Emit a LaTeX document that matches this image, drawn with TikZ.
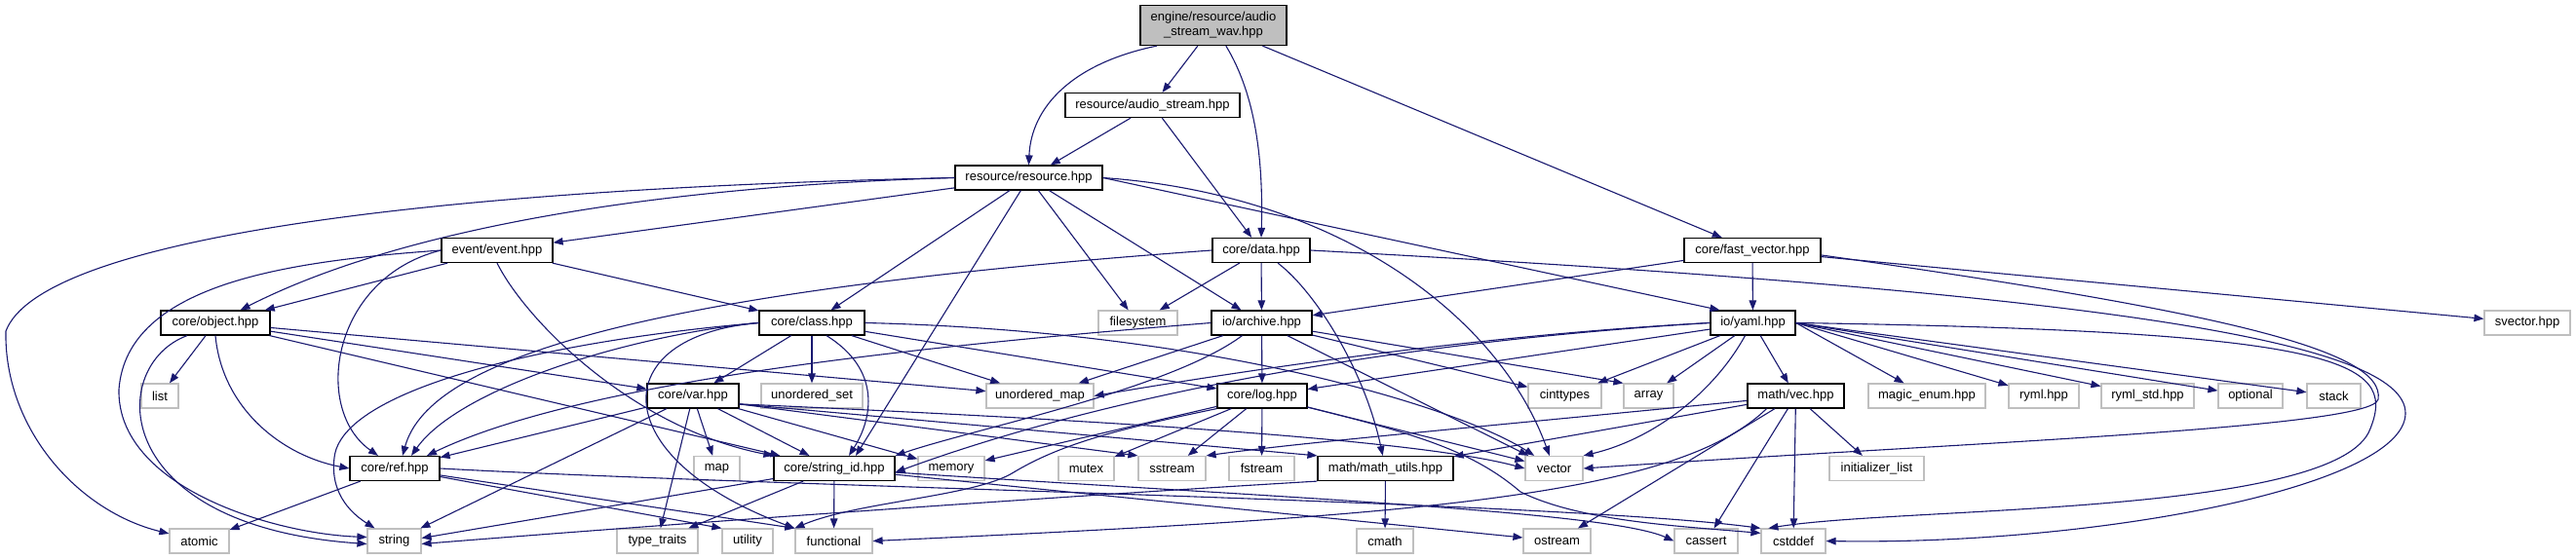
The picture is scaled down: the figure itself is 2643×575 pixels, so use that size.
\documentclass[tikz,border=0pt]{standalone}
\usepackage{fontspec}
\setmainfont{Liberation Sans}
\usetikzlibrary{arrows.meta}
\definecolor{edgeblue}{HTML}{191970}
\definecolor{sysgrey}{HTML}{BFBFBF}
\definecolor{topgrey}{HTML}{BFBFBF}
\tikzset{
  nbox/.style={line width=1.2pt, fill=white, minimum height=25pt, inner sep=0pt,
    font=\fontsize{13}{15}\selectfont, text=black},
  proj/.style={nbox, draw=black},
  sys/.style={nbox, draw=sysgrey},
  e/.style={draw=edgeblue, line width=1.1pt, -{Triangle[length=10pt,width=7.5pt]}},
}
\begin{document}
\begin{tikzpicture}[x=1pt,y=-1pt]
\useasboundingbox (0,0) rectangle (2643,575);
\fill[white] (0,0) rectangle (2643,575);
% row 0-3
\node[proj, fill=topgrey, minimum width=150pt, minimum height=41pt, align=center] (top) at (1245,26) {engine/resource/audio\\\_stream\_wav.hpp};
\node[proj, minimum width=179pt] (aus) at (1182.5,108) {resource/audio\_stream.hpp};
\node[proj, minimum width=151pt] (res) at (1055.5,182.5) {resource/resource.hpp};
\node[proj, minimum width=114pt] (event) at (510,257) {event/event.hpp};
\node[proj, minimum width=100pt] (data) at (1294,257) {core/data.hpp};
\node[proj, minimum width=140pt] (fv) at (1798,257) {core/fast\_vector.hpp};
% row 4
\node[proj, minimum width=112pt] (object) at (221,331.5) {core/object.hpp};
\node[proj, minimum width=108pt] (class) at (833,331.5) {core/class.hpp};
\node[sys, minimum width=81pt] (filesystem) at (1167.5,331.5) {filesystem};
\node[proj, minimum width=103pt] (archive) at (1294.5,331.5) {io/archive.hpp};
\node[proj, minimum width=87pt] (yaml) at (1798.5,331.5) {io/yaml.hpp};
\node[sys, minimum width=88pt] (svector) at (2593,331.5) {svector.hpp};
% row 5
\node[sys, minimum width=38pt] (list) at (164,406.5) {list};
\node[proj, minimum width=94pt] (var) at (711,406.5) {core/var.hpp};
\node[sys, minimum width=104pt] (uset) at (833,406.5) {unordered\_set};
\node[sys, minimum width=110pt] (umap) at (1067,406.5) {unordered\_map};
\node[proj, minimum width=92pt] (log) at (1295,406.5) {core/log.hpp};
\node[sys, minimum width=75pt] (cinttypes) at (1605.5,406.5) {cinttypes};
\node[sys, minimum width=51pt] (array) at (1691.5,406.5) {array};
\node[proj, minimum width=99pt] (vec) at (1842.5,406.5) {math/vec.hpp};
\node[sys, minimum width=120pt] (magic) at (1977,406.5) {magic\_enum.hpp};
\node[sys, minimum width=72pt] (ryml) at (2097,406.5) {ryml.hpp};
\node[sys, minimum width=95pt] (rymlstd) at (2203.5,406.5) {ryml\_std.hpp};
\node[sys, minimum width=66pt] (optional) at (2309,406.5) {optional};
\node[sys, minimum width=55pt] (stack) at (2394.5,406.5) {stack};
% row 6
\node[proj, minimum width=92pt] (ref) at (405,481) {core/ref.hpp};
\node[sys, minimum width=47pt] (map) at (735.5,481) {map};
\node[proj, minimum width=124pt] (sid) at (856,481) {core/string\_id.hpp};
\node[sys, minimum width=68pt] (memory) at (976,481) {memory};
\node[sys, minimum width=57pt] (mutex) at (1114.5,481) {mutex};
\node[sys, minimum width=69pt] (sstream) at (1202.5,481) {sstream};
\node[sys, minimum width=67pt] (fstream) at (1294.5,481) {fstream};
\node[proj, minimum width=139pt] (mathu) at (1421.5,481) {math/math\_utils.hpp};
\node[sys, minimum width=59pt] (vector) at (1594.5,481) {vector};
\node[sys, minimum width=97pt] (initlist) at (1925.5,481) {initializer\_list};
% row 7
\node[sys, minimum width=61pt] (atomic) at (204.5,555.5) {atomic};
\node[sys, minimum width=55pt] (string) at (404.5,555.5) {string};
\node[sys, minimum width=83pt] (typetraits) at (674.5,555.5) {type\_traits};
\node[sys, minimum width=52pt] (utility) at (767,555.5) {utility};
\node[sys, minimum width=79pt] (functional) at (855.5,555.5) {functional};
\node[sys, minimum width=58pt] (cmath) at (1421,555.5) {cmath};
\node[sys, minimum width=69pt] (ostream) at (1597.5,555.5) {ostream};
\node[sys, minimum width=65pt] (cassert) at (1750.5,555.5) {cassert};
\node[sys, minimum width=66pt] (cstddef) at (1840,555.5) {cstddef};

% ---- edges ----
% top
\draw[e] (top) -- (aus);
\draw[e] (top.200) .. controls (1100,65) and (1058,110) .. (res.north);
\draw[e] (top) .. controls (1290,100) and (1296,170) .. (data.north);
\draw[e] (top) -- (fv);
\draw[e] (aus) -- (res);
\draw[e] (aus) -- (data);
% resource
\draw[e] (res) -- (event);
\draw[e] (res.west) .. controls (650,192) and (400,240) .. (object);
\draw[e] (res.west) .. controls (400,195) and (40,250) .. (6,340) .. controls (4,440) and (80,525) .. (atomic);
\draw[e] (res) -- (class);
\draw[e] (res) -- ([xshift=22pt]sid.north);
\draw[e] (res) -- (filesystem);
\draw[e] (res) -- (archive);
\draw[e] (res.east) .. controls (1380,200) and (1540,330) .. (vector);
\draw[e] (res.east) -- ([xshift=10pt]yaml.north west);
% event
\draw[e] (event) -- (object);
\draw[e] (event) -- (class);
\draw[e] (event.west) .. controls (340,285) and (320,420) .. ([xshift=-17pt]ref.north);
\draw[e] (event.south) .. controls (540,330) and (650,440) .. (sid.north west);
\draw[e] (event.west) .. controls (300,268) and (130,290) .. (122,400) .. controls (120,500) and (280,548) .. ([yshift=4pt]string.west);
% data
\draw[e] (data.west) .. controls (650,300) and (440,370) .. ([xshift=8pt]ref.north);
\draw[e] (data) -- (filesystem);
\draw[e] (data) -- (archive);
\draw[e] (data) .. controls (1350,300) and (1400,380) .. (mathu);
\draw[e] (data.east) .. controls (2150,300) and (2470,350) .. (2468,425) .. controls (2466,500) and (2150,560) .. (cstddef.east);
% fast_vector
\draw[e] (fv) -- (archive);
\draw[e] (fv) -- (yaml);
\draw[e] (fv) -- (svector);
\draw[e] (fv.-4) .. controls (2280,320) and (2448,360) .. (2440,410) .. controls (2435,440) and (2000,455) .. (vector.east);
% object
\draw[e] (object) -- (list);
\draw[e] (object.south) .. controls (228,420) and (290,468) .. (ref.west);
\draw[e] ([xshift=-29pt]object.south) .. controls (110,375) and (110,540) .. ([yshift=-3pt]string.west);
\draw[e] (object) -- (var);
\draw[e] (object) -- (umap);
\draw[e] (object) -- (sid);
% class
\draw[e] (class) -- (var);
\draw[e] (class) -- (uset);
\draw[e] (class) -- (umap);
\draw[e] (class) -- (log);
\draw[e] (class.west) .. controls (640,345) and (470,400) .. ([xshift=17pt]ref.north);
\draw[e] ([xshift=15pt]class.south) .. controls (905,380) and (895,430) .. ([xshift=15pt]sid.north);
\draw[e] (class.west) .. controls (620,345) and (620,470) .. (functional.north west);
\draw[e] (class.west) .. controls (560,350) and (350,400) .. (343,470) .. controls (338,510) and (365,530) .. ([xshift=-20pt]string.north);
\draw[e] (class.east) .. controls (1250,340) and (1500,420) .. (vector);
% var
\draw[e] (var) -- (ref);
\draw[e] (var) -- (string);
\draw[e] (var) -- (typetraits);
\draw[e] (var) -- (map);
\draw[e] (var) -- (sid);
\draw[e] (var) -- (memory);
\draw[e] (var.-10) -- (sstream.north west);
\draw[e] (var.-10) -- (mathu.north west);
\draw[e] (var.-10) .. controls (1100,430) and (1450,450) .. (vector.west);
% archive
\draw[e] (archive) -- (umap);
\draw[e] (archive) -- (log);
\draw[e] (archive.west) .. controls (950,355) and (600,390) .. ([xshift=33pt]ref.north);
\draw[e] ([xshift=-20pt]archive.south) .. controls (1200,400) and (1000,440) .. (sid.north east);
\draw[e] (archive) -- (cinttypes);
\draw[e] (archive) -- (array.north west);
\draw[e] (archive) -- (vector);
% yaml
\draw[e] (yaml.west) .. controls (1500,345) and (1250,385) .. (umap.east);
\draw[e] (yaml) -- (log);
\draw[e] (yaml.west) .. controls (1450,350) and (1150,400) .. ([yshift=-4pt]sid.east);
\draw[e] (yaml) -- (cinttypes);
\draw[e] (yaml) -- (array);
\draw[e] (yaml) -- (vec);
\draw[e] ([xshift=-8pt]yaml.south) .. controls (1760,400) and (1700,450) .. (vector.north east);
\draw[e] (yaml.east) -- (magic);
\draw[e] (yaml.east) -- (ryml);
\draw[e] (yaml.east) -- (rymlstd);
\draw[e] (yaml.east) -- (optional);
\draw[e] (yaml.east) -- (stack);
\draw[e] (yaml.east) .. controls (2400,340) and (2460,370) .. (2432,440) .. controls (2400,530) and (1950,520) .. ([xshift=8pt]cstddef.north west);
% vec
\draw[e] (vec) -- (initlist);
\draw[e] (vec) -- (cstddef);
\draw[e] (vec) -- (cassert);
\draw[e] (vec) -- (ostream);
\draw[e] (vec) -- (mathu);
\draw[e] (vec) .. controls (1500,440) and (1330,455) .. (sstream.north east);
\draw[e] ([xshift=-30pt]vec.south) .. controls (1720,510) and (1450,530) .. (functional.east);
% log
\draw[e] (log) -- (memory);
\draw[e] (log) -- (mutex);
\draw[e] (log) -- (sstream);
\draw[e] (log) -- (fstream);
\draw[e] (log) -- (vector);
\draw[e] (log.south west) .. controls (1150,440) and (1090,455) .. (1040,485) .. controls (1000,510) and (880,515) .. (functional.north west);
\draw[e] (log) .. controls (1450,445) and (1510,462) .. (1560,505) .. controls (1620,535) and (1720,540) .. ([yshift=-5pt]cstddef.north west);
% math utils
\draw[e] (mathu) -- (cmath);
\draw[e] (mathu.south west) .. controls (1000,515) and (600,545) .. ([yshift=-3pt]string.east);
% ref
\draw[e] (ref) -- (atomic);
\draw[e] (ref) -- (utility.north west);
\draw[e] (ref) -- (functional.north west);
\draw[e] (ref.east) .. controls (800,500) and (1600,515) .. (cstddef.north west);
% string_id
\draw[e] (sid) -- (functional);
\draw[e] (sid) -- ([yshift=3pt]string.east);
\draw[e] (sid) -- (typetraits);
\draw[e] (sid) -- (ostream);
\draw[e] (sid) .. controls (1300,510) and (1650,525) .. (cassert.west);
\end{tikzpicture}
\end{document}
